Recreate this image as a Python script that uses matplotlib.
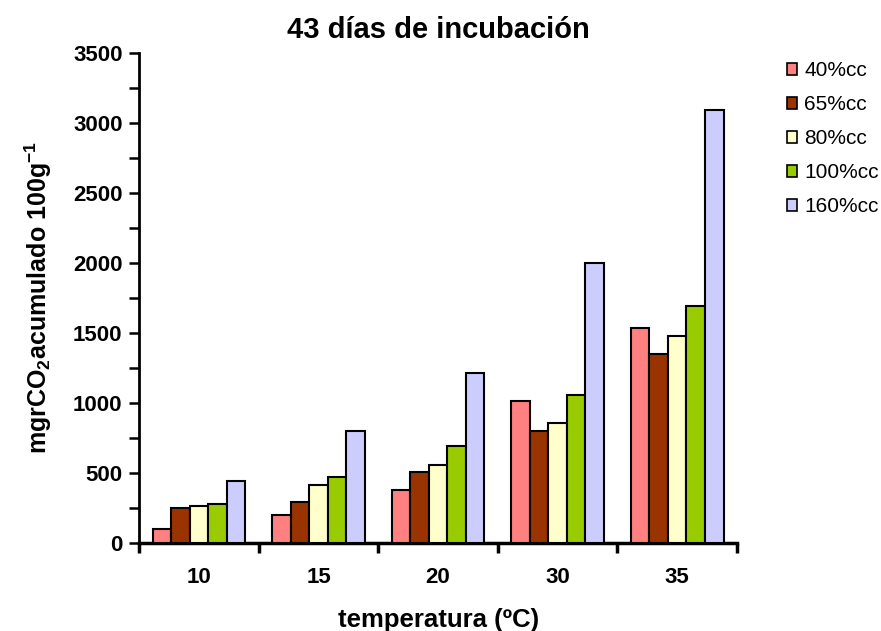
import matplotlib
matplotlib.use("Agg")
import matplotlib.pyplot as plt
import numpy as np
from matplotlib.ticker import MultipleLocator, FixedLocator

plt.rcParams['font.family'] = ['Liberation Sans', 'DejaVu Sans']
plt.rcParams['mathtext.fontset'] = 'custom'
plt.rcParams['mathtext.rm'] = 'Liberation Sans'
plt.rcParams['mathtext.bf'] = 'Liberation Sans:bold'

categories = ["10", "15", "20", "30", "35"]
series_names = ["40%cc", "65%cc", "80%cc", "100%cc", "160%cc"]
v40 = [100, 202, 378, 1014, 1533]
v65 = [252, 295, 509, 802, 1348]
v80 = [266, 412, 559, 855, 1481]
v100 = [281, 469, 695, 1055, 1693]
v160 = [441, 802, 1214, 2002, 3093]
colors = ["#FF8080", "#993300", "#FFFFCC", "#99CC00", "#CCCCFF"]

series = [v40, v65, v80, v100, v160]

fig = plt.figure(figsize=(8.81, 6.31), dpi=100)
ax = fig.add_axes([0.158, 0.1395, 0.6785, 0.7765])

x = np.arange(len(categories))
w = 0.155
for i, (vals, name, c) in enumerate(zip(series, series_names, colors)):
    ax.bar(x + (i - 2) * w, vals, width=w, color=c, edgecolor="black",
           linewidth=1.5, label=name, zorder=3)

ax.set_xlim(-0.5, len(categories) - 0.5)
ax.set_ylim(0, 3500)
ax.yaxis.set_major_locator(MultipleLocator(500))
ax.yaxis.set_minor_locator(MultipleLocator(250))

ax.xaxis.set_major_locator(FixedLocator(np.arange(len(categories) + 1) - 0.5))
ax.xaxis.set_minor_locator(FixedLocator(x))
ax.set_xticklabels([""] * (len(categories) + 1))
ax.set_xticklabels(categories, minor=True)
ax.tick_params(axis='x', which='minor', length=0, pad=17, labelsize=16)
ax.tick_params(axis='x', which='major', length=7, width=2.5, direction='out')
ax.tick_params(axis='y', which='both', length=7, width=1.8, direction='out',
               labelsize=16, pad=5)
for lab in ax.get_xticklabels(minor=True) + ax.get_yticklabels():
    lab.set_fontweight('bold')

for s in ['top', 'right']:
    ax.spines[s].set_visible(False)
ax.spines['left'].set_linewidth(2)
ax.spines['bottom'].set_linewidth(2.5)

ax.set_title("43 días de incubación", fontsize=21, fontweight='bold', pad=11)
ax.set_xlabel("temperatura (ºC)", fontsize=18.5, fontweight='bold', labelpad=15)
ax.set_ylabel(r"mgrCO$_\mathbf{2}$acumulado 100g$^\mathbf{-1}$", fontsize=18,
              fontweight='bold', labelpad=14)

leg = ax.legend(loc='upper left', bbox_to_anchor=(1.052, 1.022), frameon=False,
                fontsize=15, handlelength=0.5, handleheight=0.5,
                labelspacing=0.72, handletextpad=0.35)
for h in leg.legend_handles:
    h.set_linewidth(1.2)

fig.savefig("out.png", dpi=100)
